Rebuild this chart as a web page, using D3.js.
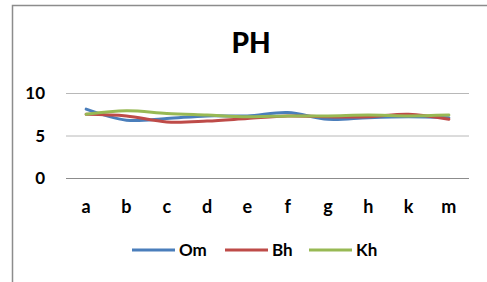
<!DOCTYPE html>
<html><head><meta charset="utf-8">
<script src="https://cdn.jsdelivr.net/npm/d3@7"></script>
<style>body{margin:0;background:#fff}svg{display:block}</style>
</head><body>
<svg id="c" width="487" height="282"></svg>
<script>
const categories = ["a","b","c","d","e","f","g","h","k","m"];
const om = [8.1, 6.8, 7.0, 7.3, 7.3, 7.7, 6.9, 7.1, 7.2, 7.1];
const bh = [7.5, 7.3, 6.6, 6.7, 7.0, 7.3, 7.2, 7.2, 7.5, 6.9];
const kh = [7.5, 7.9, 7.6, 7.4, 7.2, 7.3, 7.3, 7.4, 7.3, 7.4];
const seriesNames = ["Om","Bh","Kh"];
const yTicks = [0, 5, 10];
const colors = ["#4A7EBB","#BE4B48","#98B954"];
const series = [om, bh, kh];

const svg = d3.select("#c");
const font = "Lato, 'Open Sans', sans-serif";

// border
svg.append("path").attr("d","M12.5,282 L12.5,5.5 L487,5.5")
  .attr("fill","none").attr("stroke","#8c8c8c").attr("stroke-width",1.5);

svg.append("text").attr("x",251).attr("y",53).attr("text-anchor","middle")
  .attr("font-family",font).attr("font-weight","900").attr("font-size",28)
  .text("PH");

const x = d3.scaleBand().domain(categories).range([66,469]);
const y = d3.scaleLinear().domain([0,10]).range([178,93]);

// gridlines
svg.append("g").selectAll("line").data(yTicks).join("line")
  .attr("x1",66).attr("x2",469)
  .attr("y1",d=>y(d)+0.5).attr("y2",d=>y(d)+0.5)
  .attr("stroke",d=>d===0?"#8c8c8c":"#b8b8b8").attr("stroke-width",1);

// y labels
svg.append("g").selectAll("text").data(yTicks).join("text")
  .attr("x",45).attr("y",d=>y(d)+6).attr("text-anchor","end")
  .attr("font-family",font).attr("font-weight","bold").attr("font-size",17)
  .text(d=>d);

// x labels
svg.append("g").selectAll("text").data(categories).join("text")
  .attr("x",d=>x(d)+x.bandwidth()/2).attr("y",213).attr("text-anchor","middle")
  .attr("font-family",font).attr("font-weight","bold").attr("font-size",18)
  .text(d=>d);

const line = d3.line()
  .x((d,i)=>x(categories[i])+x.bandwidth()/2)
  .y(d=>y(d))
  .curve(d3.curveCatmullRom.alpha(0.5));

svg.append("g").selectAll("path").data(series).join("path")
  .attr("d",d=>line(d)).attr("fill","none")
  .attr("stroke",(d,i)=>colors[i]).attr("stroke-width",3)
  .attr("stroke-linecap","round");

// legend
const lx = [132, 225, 309];
const lg = svg.append("g").selectAll("g").data(seriesNames).join("g");
lg.append("line").attr("x1",(d,i)=>lx[i]).attr("x2",(d,i)=>lx[i]+43)
  .attr("y1",250).attr("y2",250).attr("stroke",(d,i)=>colors[i]).attr("stroke-width",3);
lg.append("text").attr("x",(d,i)=>lx[i]+47).attr("y",256)
  .attr("font-family",font).attr("font-weight","bold").attr("font-size",17)
  .text(d=>d);
</script>
</body></html>
